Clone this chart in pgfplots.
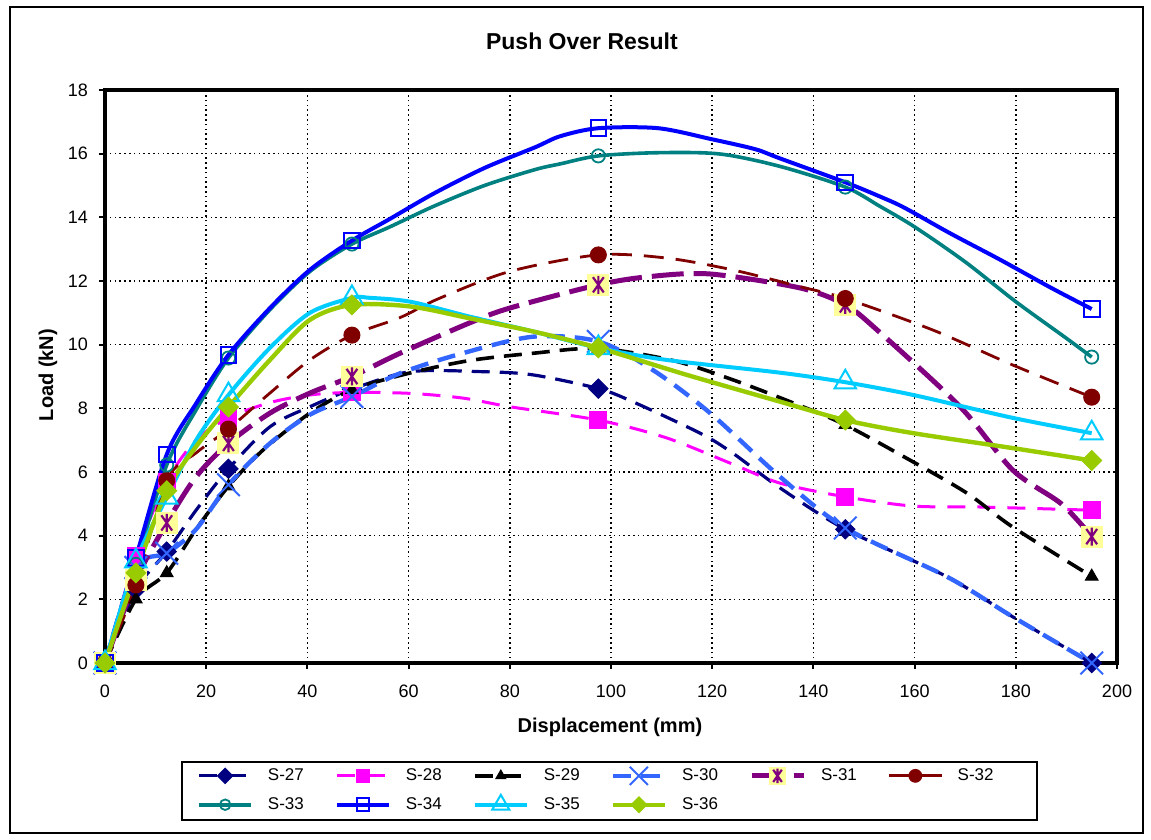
\documentclass[border=0pt]{standalone}
\usepackage{fontspec}
\setmainfont{Liberation Sans}
\usepackage{pgfplots}
\pgfplotsset{compat=1.18}
\usetikzlibrary{plotmarks}

\definecolor{cS27}{HTML}{000080}
\definecolor{cS28}{HTML}{FF00FF}
\definecolor{cS29}{HTML}{000000}
\definecolor{cS30}{HTML}{3366FF}
\definecolor{cS31}{HTML}{800080}
\definecolor{cS32}{HTML}{800000}
\definecolor{cS33}{HTML}{008080}
\definecolor{cS34}{HTML}{0000FF}
\definecolor{cS35}{HTML}{00CCFF}
\definecolor{cS36}{HTML}{99CC00}
\definecolor{markyellow}{HTML}{FFFF99}

\pgfdeclareplotmark{ysqast}{%
  \begin{pgfscope}%
  \pgfsetfillcolor{markyellow}%
  \pgfpathrectangle{\pgfqpoint{-1.22\pgfplotmarksize}{-1.22\pgfplotmarksize}}{\pgfqpoint{2.44\pgfplotmarksize}{2.44\pgfplotmarksize}}%
  \pgfusepath{fill}%
  \end{pgfscope}%
  \pgfpathmoveto{\pgfqpoint{0pt}{-\pgfplotmarksize}}%
  \pgfpathlineto{\pgfqpoint{0pt}{\pgfplotmarksize}}%
  \pgfpathmoveto{\pgfqpoint{-0.6\pgfplotmarksize}{-0.85\pgfplotmarksize}}%
  \pgfpathlineto{\pgfqpoint{0.6\pgfplotmarksize}{0.85\pgfplotmarksize}}%
  \pgfpathmoveto{\pgfqpoint{-0.6\pgfplotmarksize}{0.85\pgfplotmarksize}}%
  \pgfpathlineto{\pgfqpoint{0.6\pgfplotmarksize}{-0.85\pgfplotmarksize}}%
  \pgfusepathqstroke
}

\begin{document}
\begin{tikzpicture}
\useasboundingbox (0pt,0pt) rectangle (575.5pt,420pt);
\fill[white] (0pt,0pt) rectangle (575.5pt,420pt);
\draw[line width=0.8pt] (5pt,3.5pt) rectangle (571.5pt,416.5pt);
\draw[line width=0.8pt] (91pt,10pt) rectangle (518.5pt,39pt);
\begin{axis}[
  at={(52.5pt,88.5pt)}, anchor=south west,
  scale only axis, width=506pt, height=286.5pt,
  xmin=0, xmax=200, ymin=0, ymax=18,
  xtick={0,20,...,200}, ytick={0,2,...,18},
  xtick pos=bottom, ytick pos=left,
  grid=major,
  major grid style={black, line width=0.8pt, dash pattern=on 0.8pt off 1.6pt},
  axis line style={line width=2pt},
  tick align=outside, major tick length=3pt,
  tick style={black, line width=1pt},
  /pgf/number format/assume math mode=true,
  tick label style={font=\fontsize{9}{10}\selectfont},
  xticklabel style={yshift=-4.5pt},
  yticklabel style={xshift=-2pt},
  title={Push Over Result},
  title style={font=\bfseries\fontsize{11.5}{13}\selectfont, at={(axis description cs:0.4713,1.0646)}, anchor=center},
  xlabel={Displacement (mm)},
  xlabel style={font=\bfseries\fontsize{10}{12}\selectfont, at={(axis description cs:0.499,-0.1117)}, anchor=center},
  ylabel={Load (kN)},
  ylabel style={font=\bfseries\fontsize{10}{12}\selectfont, at={(axis description cs:-0.0563,0.5026)}, anchor=center},
  clip=false,
  legend columns=6,
  legend cell align=left,
  legend style={at={(axis description cs:0.0909,-0.1763)}, anchor=north west,
    draw=none, fill=none, inner sep=0pt,
    font=\fontsize{8.5}{10}\selectfont,
    /tikz/every odd column/.append style={column sep=5.5pt},
    /tikz/every even column/.append style={column sep=13.5pt},
    row sep=3pt},
  legend image code/.code={\draw[#1,mark indices={2},every mark/.append style={scale=0.8}] plot coordinates {(0pt,0pt) (13pt,0pt) (26pt,0pt)};},
]
% S-27
\addplot[smooth, color=cS27, line width=1.6pt, dash pattern=on 9pt off 5pt,
  mark=square*, mark size=3.4pt, mark options={solid, rotate=45, fill=cS27, line width=0.5pt},
  mark indices={1,2,3,5,8,12,17,20}] coordinates {
(0,0) (6.1,2.3) (12.2,3.5) (18,4.8) (24.4,6.1) (32.6,7.42) (40.5,8.05) (48.8,8.6)
(60.3,9.15) (74.8,9.15) (84.6,9.05) (97.5,8.62) (104.4,8.2) (117.6,7.22) (124,6.6)
(133.4,5.5) (146.3,4.2) (166.4,2.71) (179.4,1.45) (195,0)};
\addlegendentry{S-27}
% S-28
\addplot[smooth, color=cS28, line width=1.5pt, dash pattern=on 9pt off 6pt,
  mark=square*, mark size=4.2pt, mark options={solid, fill=cS28, line width=0.5pt},
  mark indices={1,2,3,5,8,12,16,19}] coordinates {
(0,0) (6.1,3.35) (12.2,5.7) (18,7.0) (24.4,7.7) (32.6,8.18) (40.5,8.42) (48.8,8.5)
(60.3,8.47) (70.8,8.32) (80,8.05) (97.5,7.63) (111,7.07) (124,6.25) (133.4,5.65)
(146.3,5.22) (159.7,4.93) (173,4.9) (195,4.8)};
\addlegendentry{S-28}
% S-29
\addplot[smooth, color=cS29, line width=1.8pt, dash pattern=on 9pt off 5pt,
  mark=triangle*, mark size=3.6pt, mark options={solid, fill=cS29, line width=0.5pt},
  mark indices={1,2,3,5,8,12,16,20}] coordinates {
(0,0) (6.1,2.0) (12.2,2.83) (18,4.2) (24.4,5.55) (31.3,6.7) (40.5,7.85) (48.8,8.58)
(60,9.1) (72,9.5) (84.6,9.73) (97.5,9.88) (112.3,9.5) (124,8.9) (136,8.17)
(146.3,7.48) (159,6.38) (170.3,5.34) (179.4,4.27) (195,2.72)};
\addlegendentry{S-29}
% S-30
\addplot[smooth, color=cS30, line width=2.2pt, dash pattern=on 9pt off 5pt,
  mark=x, mark size=8pt, mark options={solid, line width=1pt},
  mark indices={1,2,3,5,8,12,16,19}] coordinates {
(0,0) (6.1,3.0) (12.2,3.45) (18,4.2) (24.4,5.6) (32.6,6.9) (40.5,7.8) (48.8,8.37)
(58.3,9.1) (70,9.7) (84.6,10.25) (97.5,10.1) (108.3,9.2) (119.6,7.85) (133.4,5.85)
(146.3,4.24) (166.4,2.71) (179.4,1.45) (195,0)};
\addlegendentry{S-30}
% S-31
\addplot[smooth, color=cS31, line width=2.5pt, dash pattern=on 16pt off 5pt,
  mark=ysqast, mark size=4.5pt, mark options={solid, line width=1.1pt},
  mark indices={1,2,3,5,8,12,16,21}] coordinates {
(0,0) (6.1,2.6) (12.2,4.4) (18,5.85) (24.4,6.9) (32.6,7.85) (40.5,8.48) (48.8,9.0)
(58.3,9.73) (72,10.68) (80,11.15) (97.5,11.88) (107.7,12.14) (119.6,12.22) (137.4,11.78)
(146.3,11.25) (152.6,10.46) (169,8.05) (179.4,6.06) (189,5.0) (195,3.97)};
\addlegendentry{S-31}
% S-32
\addplot[smooth, color=cS32, line width=1.4pt, dash pattern=on 10pt off 6pt,
  mark=*, mark size=4pt, mark options={solid, fill=cS32, line width=0.5pt},
  mark indices={1,2,3,5,8,12,16,19}] coordinates {
(0,0) (6.1,2.45) (12.2,5.73) (18,6.6) (24.4,7.35) (32.6,8.48) (40.5,9.52) (48.8,10.3)
(58.3,10.85) (66,11.45) (80,12.3) (97.5,12.82) (111,12.72) (124,12.35) (137.4,11.82)
(146.3,11.45) (163.6,10.46) (179.4,9.36) (195,8.35)};
\addlegendentry{S-32}
% S-33
\addplot[smooth, color=cS33, line width=1.8pt,
  mark=o, mark size=3.3pt, mark options={solid, line width=0.9pt},
  mark indices={1,2,3,5,8,14,18,24}] coordinates {
(0,0) (6.1,3.1) (12.2,6.22) (18,7.95) (24.4,9.58) (32.6,11.1) (40.5,12.3) (48.8,13.16)
(56.3,13.7) (65,14.35) (75,15.0) (85,15.5) (90,15.68) (97.5,15.93) (109.3,16.03)
(121.5,15.99) (133.4,15.6) (146.3,14.95) (153.2,14.34) (160,13.7) (170,12.6)
(180,11.35) (190,10.2) (195,9.61)};
\addlegendentry{S-33}
% S-34
\addplot[smooth, color=cS34, line width=2pt,
  mark=square, mark size=3.9pt, mark options={solid, line width=1pt},
  mark indices={1,2,3,5,8,14,19,25}] coordinates {
(0,0) (6.1,3.3) (12.2,6.55) (18,8.15) (24.4,9.68) (32.6,11.15) (40.5,12.35) (48.8,13.27)
(56.3,13.95) (65,14.75) (75,15.55) (85,16.2) (90,16.55) (97.5,16.8) (109.3,16.8)
(120,16.45) (128.5,16.14) (133.4,15.85) (146.3,15.1) (153.2,14.65) (158,14.3)
(167,13.5) (177,12.66) (186.8,11.8) (195,11.12)};
\addlegendentry{S-34}
% S-35
\addplot[smooth, color=cS35, line width=2pt,
  mark=triangle, mark size=6.2pt, mark options={solid, line width=1pt},
  mark indices={1,2,3,5,8,13,16,19}] coordinates {
(0,0) (6.1,3.2) (12.2,5.2) (18,7.0) (24.4,8.42) (32.6,9.9) (40.5,11.0) (48.8,11.47)
(52.4,11.47) (60.3,11.35) (72.1,10.88) (85,10.4) (97.5,9.9) (111,9.52) (133.4,9.12)
(146.3,8.82) (159.7,8.42) (179.4,7.7) (195,7.22)};
\addlegendentry{S-35}
% S-36
\addplot[smooth, color=cS36, line width=2.2pt,
  mark=square*, mark size=3.5pt, mark options={solid, rotate=45, fill=cS36, line width=0.5pt},
  mark indices={1,2,3,5,8,12,15,18}] coordinates {
(0,0) (6.1,2.83) (12.2,5.41) (18,6.8) (24.4,8.04) (32.6,9.52) (40.5,10.78) (48.8,11.25)
(60.3,11.2) (72,10.83) (85,10.4) (97.5,9.9) (115,9.05) (133.4,8.21) (146.3,7.63)
(159.7,7.22) (179.4,6.75) (195,6.36)};
\addlegendentry{S-36}
\end{axis}
\end{tikzpicture}
\end{document}
